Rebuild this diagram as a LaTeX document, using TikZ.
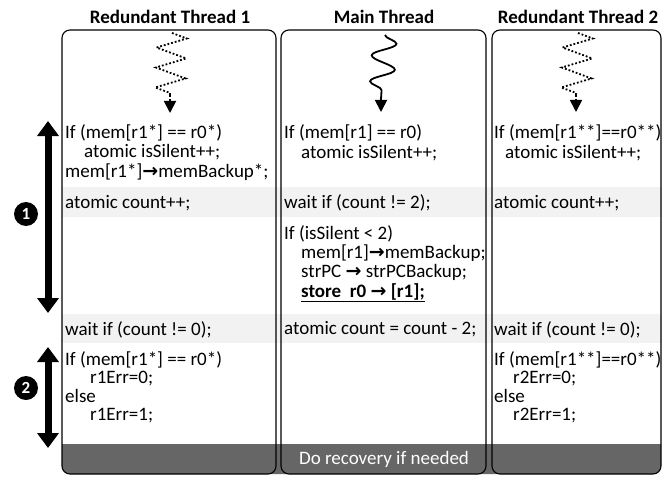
\documentclass[tikz,border=0pt]{standalone}
\usepackage{fontspec}
\setmainfont{Carlito}
\newfontfamily\arrowfont{DejaVu Sans}
\usetikzlibrary{decorations.pathmorphing}
\usetikzlibrary{arrows.meta}
\newcommand{\toarr}{{\arrowfont\bfseries →}}
\newcommand{\ind}{\hspace*{19pt}}

\begin{document}
\begin{tikzpicture}[x=1pt,y=-1pt,
    code/.style={anchor=base west, align=left, inner sep=0pt, font=\fontsize{19}{19.2}\selectfont},
    lowcode/.style={code, font=\fontsize{19}{18.5}\selectfont},
    title/.style={font=\fontsize{19}{20}\selectfont\bfseries},
    box/.style={line width=1.1pt, rounded corners=8pt},
    phase/.style={line width=7pt, {Triangle[width=21pt,length=15pt]}-{Triangle[width=21pt,length=15pt]}},
    stepnum/.style={circle, fill=black, text=white, inner sep=0pt, minimum size=24pt, font=\fontsize{17}{17}\selectfont\bfseries},
    squig/.style={line width=1.8pt},
    tip/.style={-{Triangle[width=12pt,length=12pt]}}]
    \useasboundingbox (0,0) rectangle (671,476);

    \coordinate (T1) at (170, 17);
    \coordinate (T2) at (384, 17);
    \coordinate (T3) at (578, 17);

    \coordinate (Z1a) at (172, 33);
    \coordinate (Z1b) at (170, 95);
    \coordinate (Z1c) at (170, 113);
    \coordinate (Z2a) at (385, 35);
    \coordinate (Z2b) at (381, 99);
    \coordinate (Z2c) at (381, 112);
    \coordinate (Z3a) at (578, 33);
    \coordinate (Z3b) at (576, 95);
    \coordinate (Z3c) at (576, 112);

    \coordinate (P1a) at (48, 121);
    \coordinate (P1b) at (48, 313);
    \coordinate (P2a) at (48, 347);
    \coordinate (P2b) at (48, 448);

    % bands
    \fill[black!5] (62, 187) rectangle (662, 217);
    \fill[black!5] (62, 314) rectangle (662, 343);
    \fill[black!60] (62, 444) [rounded corners=8pt] -- (62, 474) -- (661, 474) [sharp corners] -- (661, 444) -- cycle;

    % threads
    \draw[box] (62, 30) rectangle (276, 474);
    \draw[box] (281, 30) rectangle (486, 474);
    \draw[box] (492, 30) rectangle (661, 474);

    \draw[squig, dotted, decorate, decoration={zigzag, segment length=20pt, amplitude=15pt}] (Z1a) -- (Z1b);
    \draw[squig, dotted, tip] (Z1b) -- (Z1c);
    \draw[squig, decorate, decoration={snake, segment length=26pt, amplitude=12pt}] (Z2a) -- (Z2b);
    \draw[squig, tip] (Z2b) -- (Z2c);
    \draw[squig, dotted, decorate, decoration={zigzag, segment length=20pt, amplitude=15pt}] (Z3a) -- (Z3b);
    \draw[squig, dotted, tip] (Z3b) -- (Z3c);

    \draw[phase] (P1a) -- (P1b);
    \draw[phase] (P2a) -- (P2b);

%labels
    \node[title] (t1) at (T1) {Redundant Thread 1};
    \node[title] (t2) at (T2) {Main Thread};
    \node[title] (t3) at (T3) {Redundant Thread 2};

    \node[stepnum] (n1) at (26, 214) {1};
    \node[stepnum] (n2) at (26, 388) {2};

    % anchor is the baseline of the last line
    \node[code] (a1) at (65, 177) {If (mem[r1*] == r0*)\\ \ind atomic isSilent++;\\ mem[r1*]\toarr memBackup*;};
    \node[code] (a2) at (65, 208) {atomic count++;};
    \node[code] (a3) at (65, 335) {wait if (count != 0);};
    \node[lowcode] (a4) at (65, 420.5) {If (mem[r1*] == r0*)\\ \hspace*{25pt}r1Err=0;\\ else\\ \hspace*{25pt}r1Err=1;};

    \node[code] (b1) at (284, 158) {If (mem[r1] == r0)\\ \hspace*{17pt}atomic isSilent++;};
    \node[code] (b2) at (284, 208) {wait if (count != 2);};
    \node[code] (b3) at (284, 297) {If (isSilent < 2)\\ \hspace*{17pt}mem[r1]\toarr memBackup;\\ \hspace*{17pt}strPC \toarr{} strPCBackup;\\ \hspace*{17pt}\underline{\textbf{store\ \ r0 \toarr{} [r1];}}};
    \node[code] (b4) at (284, 334) {atomic count = count - 2;};

    \node[code] (c1) at (494, 158) {If (mem[r1**]==r0**)\\ \hspace*{11pt}atomic isSilent++;};
    \node[code] (c2) at (494, 208) {atomic count++;};
    \node[code] (c3) at (494, 335) {wait if (count != 0);};
    \node[lowcode] (c4) at (494, 420.5) {If (mem[r1**]==r0**)\\ \ind r2Err=0;\\ else\\ \ind r2Err=1;};

    \node[code, anchor=center, text=white] (rec) at (384, 459) {Do recovery if needed};
\end{tikzpicture}
\end{document}
